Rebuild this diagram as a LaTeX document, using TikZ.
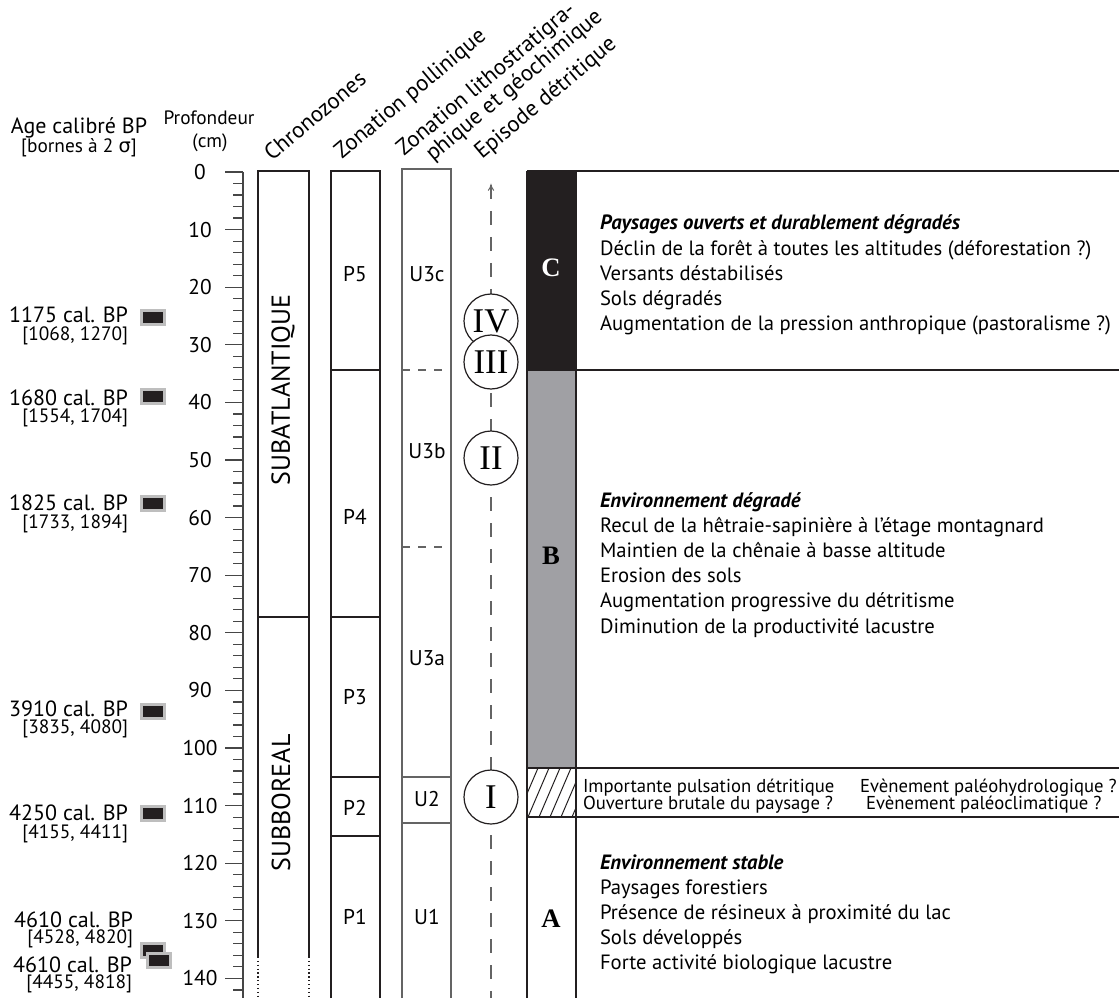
\documentclass[tikz,border=0pt]{standalone}
\usepackage{fontspec}
\setmainfont{PT Sans}
\newfontfamily\greekfont{DejaVu Sans}
\newfontfamily\romanfont{Liberation Serif}

\begin{document}
\begin{tikzpicture}[x=0.75pt,y=0.75pt,yscale=-1,xscale=1,
  every node/.style={inner sep=0pt,outer sep=0pt},
  zoneline/.style={color={rgb, 255:red, 35; green, 31; blue, 32 },line width=0.9},
  litholine/.style={color={rgb, 255:red, 100; green, 100; blue, 100 },line width=0.9},
  tickline/.style={color={rgb, 255:red, 70; green, 70; blue, 70 },line width=0.9},
  cutline/.style={litholine,dash pattern=on 6 off 6},
  episodeline/.style={litholine,dash pattern=on 10.5 off 9},
  depthlab/.style={font=\fontsize{16}{19}\selectfont},
  agelab/.style={anchor=base east,font=\fontsize{16.5}{19}\selectfont},
  agerange/.style={anchor=base east,font=\fontsize{14.5}{17}\selectfont},
  datemark/.style={draw={rgb, 255:red, 190; green, 190; blue, 190 },line width=2.25,fill={rgb, 255:red, 35; green, 31; blue, 32 },minimum width=17.25,minimum height=10.5},
  colhead/.style={anchor=base west,rotate=40,font=\fontsize{17}{20}\selectfont},
  zonelab/.style={font=\fontsize{16}{19}\selectfont},
  chronolab/.style={rotate=90,font=\fontsize{19.5}{23}\selectfont},
  episode/.style={circle,draw={rgb, 255:red, 35; green, 31; blue, 32 },line width=0.9,fill=white,minimum size=40.5,font=\romanfont\fontsize{26}{26}\selectfont},
  phaselab/.style={font=\romanfont\bfseries\fontsize{20}{22}\selectfont},
  bodyline/.style={anchor=base west,font=\fontsize{15.5}{19}\selectfont},
  bodytitle/.style={anchor=base west,font=\fontsize{15.5}{19}\selectfont\bfseries\itshape},
  eventline/.style={anchor=base west,font=\fontsize{14}{16}\selectfont}
]
\useasboundingbox (0,0) rectangle (1119,998);

%Column titles
\node[anchor=base] (agehead) at (79,134) {\fontsize{16.5}{19}\selectfont Age calibré BP};
\node[anchor=base] (agesub) at (79,153) {\fontsize{14.5}{17}\selectfont [bornes à 2 {\greekfont σ}]};
\node[anchor=base] (dephead) at (209,125) {\fontsize{14.5}{17}\selectfont Profondeur};
\node[anchor=base] (depsub) at (210,148) {\fontsize{14.5}{17}\selectfont (cm)};
\node[colhead] (chrhead) at (272,162) {Chronozones};
\node[colhead] (polhead) at (342,160) {Zonation pollinique};
\node[colhead] (lithead) at (404,157) {Zonation lithostratigra-};
\node[colhead] (lithead2) at (433,162) {phique et géochimique};
\node[colhead] (ephead) at (482,160) {Episode détritique};

%Depth scale
\draw[tickline] (243,172) -- (243,998);
\foreach \d in {0,2,...,142} \draw[tickline] (233,{172+5.76*\d}) -- (243,{172+5.76*\d});
\foreach \d in {0,10,...,140} {
  \draw[tickline] (225,{172+5.76*\d}) -- (243,{172+5.76*\d});
  \node[depthlab] (dep\d) at (200,{172+5.76*\d}) {\d};
}

%Radiocarbon dates
\node[agelab] (age1175) at (128,322.5) {1175 cal. BP};
\node[agerange] (rng1175) at (128,340) {[1068, 1270]};
\node[datemark] (m1175) at (153,317) {};
\node[agelab] (age1680) at (128,405.5) {1680 cal. BP};
\node[agerange] (rng1680) at (128,422) {[1554, 1704]};
\node[datemark] (m1680) at (153,396) {};
\node[agelab] (age1825) at (128,510.5) {1825 cal. BP};
\node[agerange] (rng1825) at (128,528) {[1733, 1894]};
\node[datemark] (m1825) at (153,503) {};
\node[agelab] (age3910) at (128,716.5) {3910 cal. BP};
\node[agerange] (rng3910) at (128,733) {[3835, 4080]};
\node[datemark] (m3910) at (153,711) {};
\node[agelab] (age4250) at (128,820.5) {4250 cal. BP};
\node[agerange] (rng4250) at (128,838) {[4155, 4411]};
\node[datemark] (m4250) at (153,813) {};
\node[agelab] (age4610a) at (133,927.5) {4610 cal. BP};
\node[agerange] (rng4610a) at (133,943) {[4528, 4820]};
\node[datemark] (m4610a) at (153,950) {};
\node[agelab] (age4610b) at (132,972.5) {4610 cal. BP};
\node[agerange] (rng4610b) at (132,988) {[4455, 4818]};
\node[datemark] (m4610b) at (159,960) {};

%Chronozones
\draw[zoneline] (258,957) -- (258,171) -- (309,171) -- (309,957);
\draw[zoneline,dotted] (258,957) -- (258,998);
\draw[zoneline,dotted] (309,957) -- (309,998);
\draw[zoneline] (258,617) -- (309,617);
\node[chronolab] (subatl) at (283,390) {SUBATLANTIQUE};
\node[chronolab] (subbor) at (281,803) {SUBBOREAL};

%Pollen zones
\draw[zoneline] (331,998) -- (331,171) -- (380,171) -- (380,998);
\draw[zoneline] (331,370) -- (380,370);
\draw[zoneline] (331,617) -- (380,617);
\draw[zoneline] (331,777) -- (380,777);
\draw[zoneline] (331,836) -- (380,836);
\node[zonelab] (p5) at (355,274) {P5};
\node[zonelab] (p4) at (355,517) {P4};
\node[zonelab] (p3) at (355,697) {P3};
\node[zonelab] (p2) at (355,808) {P2};
\node[zonelab] (p1) at (355,917) {P1};

%Litho- and geochemical units
\draw[litholine] (402,998) -- (402,169) -- (451,169) -- (451,998);
\draw[cutline] (402,370) -- (451,370);
\draw[cutline] (402,547) -- (451,547);
\draw[litholine] (402,777) -- (451,777);
\draw[litholine] (402,823) -- (451,823);
\node[zonelab] (u3c) at (427,274) {U3c};
\node[zonelab] (u3b) at (427,451) {U3b};
\node[zonelab] (u3a) at (427,658) {U3a};
\node[zonelab] (u2) at (427,799) {U2};
\node[zonelab] (u1) at (427,917) {U1};

%Detrital episodes
\coordinate (eptop) at (491,185);
\coordinate (epbot) at (491,998);
\draw[episodeline] (eptop) -- (epbot);
\draw [shift={(491,185)}, rotate = 90] [color={rgb, 255:red, 100; green, 100; blue, 100 }  ][line width=0.75]    (5.5,-2.8) .. controls (3.5,-1.2) and (1.7,-0.3) .. (0,0) .. controls (1.7,0.3) and (3.5,1.2) .. (5.5,2.8)   ;
\node[episode] (epIV) at (491,321) {IV};
\node[episode] (epIII) at (491,362) {III};
\node[episode] (epII) at (491,458) {II};
\node[episode] (epI) at (491,797) {I};

%Environmental phases
\fill[color={rgb, 255:red, 35; green, 31; blue, 32 }] (527,171) rectangle (576,370);
\fill[color={rgb, 255:red, 160; green, 160; blue, 164 }] (527,370) rectangle (576,768);
\begin{scope}
\clip (527,768) rectangle (576,817);
\foreach \k in {495,506,...,583} \draw[zoneline,line width=0.75] (\k,817) -- ++(21,-49);
\end{scope}
\draw[zoneline] (527,171) -- (527,998);
\draw[zoneline] (576,171) -- (576,998);
\draw[zoneline] (527,171) -- (1119,171);
\draw[zoneline] (527,370) -- (1119,370);
\draw[zoneline] (527,768) -- (1119,768);
\draw[zoneline] (527,817) -- (1119,817);
\node[phaselab,text=white] (phC) at (551,268) {C};
\node[phaselab] (phB) at (551,556) {B};
\node[phaselab] (phA) at (551,919) {A};

%Phase C
\node[bodytitle] (ctitle) at (600,230) {Paysages ouverts et durablement dégradés};
\node[bodyline] (c1) at (600,255.2) {Déclin de la forêt à toutes les altitudes (déforestation ?)};
\node[bodyline] (c2) at (600,280.4) {Versants déstabilisés};
\node[bodyline] (c3) at (600,305.6) {Sols dégradés};
\node[bodyline] (c4) at (600,330.8) {Augmentation de la pression anthropique (pastoralisme ?)};

%Phase B
\node[bodytitle] (btitle) at (600,507) {Environnement dégradé};
\node[bodyline] (b1) at (600,532.2) {Recul de la hêtraie-sapinière à l’étage montagnard};
\node[bodyline] (b2) at (600,557.4) {Maintien de la chênaie à basse altitude};
\node[bodyline] (b3) at (600,582.6) {Erosion des sols};
\node[bodyline] (b4) at (600,607.8) {Augmentation progressive du détritisme};
\node[bodyline] (b5) at (600,633) {Diminution de la productivité lacustre};

%Detrital event
\node[eventline] (ev1) at (583,792) {Importante pulsation détritique};
\node[eventline] (ev2) at (583,809.5) {Ouverture brutale du paysage ?};
\node[eventline] (ev3) at (860,792) {Evènement paléohydrologique ?};
\node[eventline] (ev4) at (866,809.5) {Evènement paléoclimatique ?};

%Phase A
\node[bodytitle] (atitle) at (600,869) {Environnement stable};
\node[bodyline] (a1) at (600,894.2) {Paysages forestiers};
\node[bodyline] (a2) at (600,919.4) {Présence de résineux à proximité du lac};
\node[bodyline] (a3) at (600,944.6) {Sols développés};
\node[bodyline] (a4) at (600,969.8) {Forte activité biologique lacustre};

\end{tikzpicture}
\end{document}
